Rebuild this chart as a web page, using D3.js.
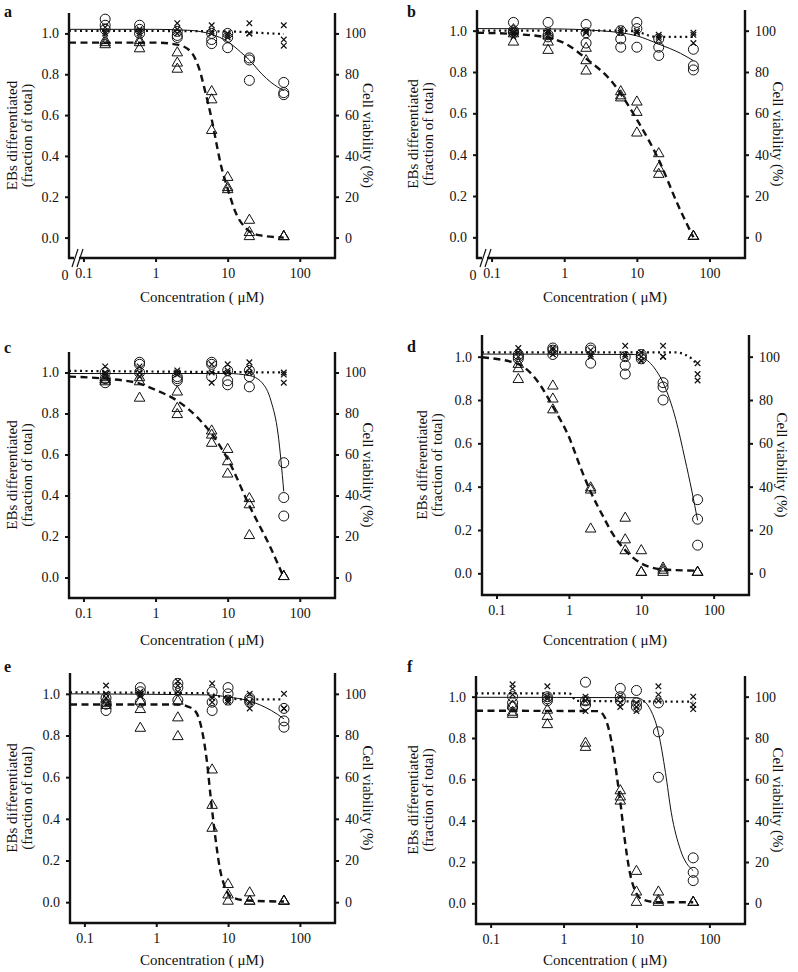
<!DOCTYPE html>
<html><head><meta charset="utf-8">
<script src="https://cdn.jsdelivr.net/npm/d3@7"></script>
<style>
body{margin:0;background:#fff;}
text{font-family:"Liberation Serif","Times New Roman",serif;fill:#111;}
</style></head>
<body><svg id="chart" width="798" height="972"></svg>
<script>
// ---------- data ----------
const conc = [0.2, 0.6, 2, 6, 10, 20, 60];
const xTicks = [0.1, 1, 10, 100];
const yTicks = [0, 0.2, 0.4, 0.6, 0.8, 1.0];
const yTicksRight = [0, 20, 40, 60, 80, 100];
const panelIds = ["a","b","c","d","e","f"];
const xTitle = "Concentration ( \u03bcM)";
const yTitle1 = "EBs differentiated";
const yTitle2 = "(fraction of total)";
const yTitleRight = "Cell viability (%)";

// triangles (EBs differentiated), circles, crosses — one array per concentration
const triA = [[0.94,0.95,0.96],[0.96,0.95,0.92],[0.90,0.85,0.82],[0.71,0.67,0.52],[0.29,0.24,0.23],[0.08,0.02,0.0],[0.0,0.0,0.0]];
const circA = [[1.07,1.04,1.02],[1.04,1.02,1.00],[1.01,0.99,0.98],[1.00,0.97,0.95],[1.00,0.98,0.93],[0.88,0.87,0.77],[0.76,0.71,0.70]];
const crossA = [[1.03,1.01,1.00],[1.02,1.01,1.00],[1.05,1.02,1.00],[1.04,1.01,1.00],[1.00,0.99,0.98],[1.05,1.00,1.00],[1.04,0.97,0.94]];
const solidA = [[0.063,1.02],[1,1.02],[3,1.015],[6,0.995],[10,0.96],[15,0.91],[20,0.87],[30,0.80],[40,0.76],[60,0.72]];
const dotA = [[0.063,1.013],[10,1.01],[20,1.005],[60,0.997]];
const dashA = [[0.063,0.955],[1,0.955],[2,0.945],[3,0.915],[4,0.83],[5,0.70],[6,0.58],[7,0.46],[8,0.36],[10,0.24],[13,0.12],[18,0.045],[27,0.012],[60,0.0]];

const triB = [[1.00,0.98,0.94],[0.97,0.94,0.90],[0.91,0.85,0.80],[0.70,0.68,0.67],[0.65,0.60,0.50],[0.40,0.33,0.30],[0.0,0.0,0.0]];
const circB = [[1.04,1.00,0.99],[1.04,0.98,0.97],[1.03,0.99,0.94],[1.00,0.96,0.92],[1.04,1.01,0.92],[0.96,0.92,0.88],[0.91,0.83,0.81]];
const crossB = [[1.00,0.99,0.97],[1.00,0.99,0.98],[1.00,0.99,0.99],[1.01,1.00,0.99],[1.00,0.99,0.99],[0.98,0.97,0.96],[0.99,0.98,0.94]];
const solidB = [[0.063,1.01],[1,1.008],[3,1.0],[6,0.99],[10,0.975],[20,0.935],[40,0.89],[60,0.855]];
const dotB = [[0.063,1.0],[6,1.0],[10,0.995],[15,0.975],[20,0.97],[60,0.97]];
const dashB = [[0.063,0.99],[0.2,0.984],[0.6,0.966],[1,0.94],[2,0.865],[4.6,0.75],[10,0.57],[20,0.375],[37.5,0.15],[60,0.0]];

const triC = [[0.97,0.96,0.95],[0.97,0.95,0.87],[0.90,0.82,0.79],[0.71,0.69,0.65],[0.62,0.56,0.50],[0.38,0.35,0.20],[0.0,0.0,0.0]];
const circC = [[1.00,0.97,0.95],[1.05,1.04,1.00],[0.98,0.97,0.96],[1.05,1.04,0.98],[1.01,0.96,0.94],[1.01,0.98,0.93],[0.56,0.39,0.30]];
const crossC = [[1.03,1.00,0.99],[1.03,1.00,0.98],[1.01,1.00,0.99],[1.04,1.00,0.95],[1.04,1.01,1.00],[1.05,1.02,1.00],[1.00,0.99,0.95]];
const solidC = [[0.063,0.995],[10,0.995],[20,0.985],[30,0.95],[40,0.86],[50,0.70],[60,0.42]];
const dotC = [[0.063,1.008],[60,1.0]];
const dashC = [[0.063,0.98],[0.2,0.97],[0.6,0.946],[1,0.915],[2,0.862],[4,0.773],[6,0.70],[10,0.578],[20,0.35],[40,0.14],[60,0.0]];

const triD = [[0.96,0.94,0.89],[0.86,0.80,0.75],[0.39,0.38,0.20],[0.25,0.15,0.10],[0.10,0.0,0.0],[0.02,0.01,0.0],[0.0,0.0,0.0]];
const circD = [[1.01,1.00,0.99],[1.04,1.03,1.01],[1.04,1.03,0.97],[1.00,0.96,0.92],[1.01,1.00,0.99],[0.88,0.86,0.80],[0.34,0.25,0.13]];
const crossD = [[1.04,1.02,1.00],[1.04,1.03,1.01],[1.03,1.01,1.00],[1.05,1.01,1.00],[1.02,1.00,0.98],[1.05,1.00,1.00],[0.97,0.92,0.89]];
const solidD = [[0.063,1.012],[8,1.01],[10,1.0],[15,0.95],[20,0.88],[30,0.71],[40,0.53],[50,0.38],[60,0.245]];
const dotD = [[0.063,1.02],[30,1.02],[40,1.01],[50,0.99],[60,0.96]];
const dashD = [[0.063,0.997],[0.2,0.966],[0.4,0.87],[0.6,0.77],[1,0.63],[1.5,0.475],[2,0.376],[3,0.26],[4,0.184],[6,0.107],[10,0.046],[20,0.018],[60,0.012]];

const triE = [[0.97,0.95,0.94],[0.96,0.92,0.83],[0.96,0.88,0.79],[0.63,0.46,0.35],[0.08,0.03,0.0],[0.04,0.0,0.0],[0.0,0.0,0.0]];
const circE = [[0.98,0.95,0.92],[1.03,1.01,0.96],[1.05,1.03,0.97],[1.01,0.96,0.92],[1.03,1.00,0.97],[0.98,0.97,0.96],[0.93,0.87,0.84]];
const crossE = [[1.04,1.00,0.98],[1.01,1.00,0.99],[1.06,1.04,1.01],[1.05,0.98,0.96],[0.98,0.97,0.96],[1.00,0.96,0.93],[1.00,0.93,0.93]];
const solidE = [[0.063,1.0],[5,0.995],[10,0.985],[20,0.965],[40,0.92],[60,0.88]];
const dotE = [[0.063,1.007],[5,1.003],[8,0.985],[10,0.978],[20,0.973],[60,0.973]];
const dashE = [[0.063,0.949],[2,0.949],[2.7,0.94],[3.5,0.917],[4.3,0.83],[5.1,0.67],[5.7,0.51],[6.6,0.32],[7.7,0.16],[9.1,0.07],[11.2,0.024],[18.3,0.008],[60,0.003]];

const triF = [[0.95,0.92,0.91],[0.93,0.90,0.86],[0.97,0.77,0.75],[0.54,0.51,0.49],[0.15,0.05,0.0],[0.05,0.01,0.0],[0.0,0.0,0.0]];
const circF = [[1.00,0.97,0.95],[1.00,0.99,0.98],[1.07,0.98,0.96],[1.04,1.00,0.98],[1.03,0.97,0.95],[0.97,0.83,0.61],[0.22,0.15,0.11]];
const crossF = [[1.06,1.04,1.01],[1.05,1.00,0.99],[1.00,0.98,0.93],[1.00,0.97,0.95],[0.97,0.95,0.93],[1.05,1.01,0.98],[1.00,0.96,0.94]];
const solidF = [[0.063,0.997],[10,0.995],[12,0.985],[15,0.947],[20,0.826],[25,0.633],[30,0.44],[40,0.26],[60,0.158]];
const dotF = [[0.063,1.016],[1.2,1.016],[1.5,0.98],[60,0.976]];
const dashF = [[0.063,0.932],[3,0.93],[3.7,0.898],[4.5,0.79],[5.3,0.633],[6.1,0.47],[6.9,0.31],[8.1,0.15],[9.6,0.06],[11.9,0.02],[20,0.005],[60,0.005]];

const panelData = {
  a:{tri:triA,circ:circA,cross:crossA,solid:solidA,dot:dotA,dash:dashA},
  b:{tri:triB,circ:circB,cross:crossB,solid:solidB,dot:dotB,dash:dashB},
  c:{tri:triC,circ:circC,cross:crossC,solid:solidC,dot:dotC,dash:dashC},
  d:{tri:triD,circ:circD,cross:crossD,solid:solidD,dot:dotD,dash:dashD},
  e:{tri:triE,circ:circE,cross:crossE,solid:solidE,dot:dotE,dash:dashE},
  f:{tri:triF,circ:circF,cross:crossF,solid:solidF,dot:dotF,dash:dashF}
};

// ---------- layout ----------
const layout = {
  a:{L:69,R:335,T:13,B:258,brk:true,lab:[4,17],yt:[12,27],rt:368,xt:[202,302]},
  b:{L:477,R:745,T:10,B:258,brk:true,lab:[407,17],yt:[413,428],rt:778,xt:[605,302]},
  c:{L:69,R:335,T:352,B:598,brk:false,lab:[4,353],yt:[12,27],rt:368,xt:[202,645]},
  d:{L:482,R:749,T:335,B:595,brk:false,lab:[407,352],yt:[422,437],rt:782,xt:[605,645]},
  e:{L:70,R:335,T:673,B:923,brk:false,lab:[4,672],yt:[12,27],rt:368,xt:[202,965]},
  f:{L:476,R:745,T:676,B:924,brk:false,lab:[407,672],yt:[413,428],rt:778,xt:[605,965]}
};
const xDomain = [0.063, 308];

const svg = d3.select("#chart");

panelIds.forEach(id => {
  const P = layout[id], D = panelData[id];
  const g = svg.append("g");
  const x = d3.scaleLog().domain(xDomain).range([P.L, P.R]);
  const y = d3.scaleLinear().domain([-0.1, 1.1]).range([P.B, P.T]);
  const yR = d3.scaleLinear().domain([-10, 110]).range([P.B, P.T]);

  // curves
  const line = d3.line().x(d => x(d[0])).y(d => y(d[1])).curve(d3.curveMonotoneX);
  g.append("path").attr("d", line(D.solid)).attr("fill","none").attr("stroke","#111").attr("stroke-width",1);
  g.append("path").attr("d", line(D.dot)).attr("fill","none").attr("stroke","#111").attr("stroke-width",2.2).attr("stroke-dasharray","2,3.5");
  g.append("path").attr("d", line(D.dash)).attr("fill","none").attr("stroke","#111").attr("stroke-width",2.4).attr("stroke-dasharray","7,4.5");

  // points
  const flat = arr => arr.flatMap((vals,i) => vals.map(v => [conc[i], v]));
  g.selectAll(null).data(flat(D.circ)).enter().append("circle")
    .attr("cx", d => x(d[0])).attr("cy", d => y(d[1])).attr("r", 5)
    .attr("fill","none").attr("stroke","#111").attr("stroke-width",1);
  const tri = d3.symbol().type(d3.symbolTriangle).size(48);
  g.selectAll(null).data(flat(D.tri)).enter().append("path")
    .attr("d", tri).attr("transform", d => `translate(${x(d[0])},${y(d[1])-1})`)
    .attr("fill","none").attr("stroke","#111").attr("stroke-width",1);
  const crs = d3.symbol().type(d3.symbolX).size(22);
  g.selectAll(null).data(flat(D.cross)).enter().append("path")
    .attr("d", crs).attr("transform", d => `translate(${x(d[0])},${y(d[1])})`)
    .attr("fill","none").attr("stroke","#111").attr("stroke-width",1.2);

  // axes
  const fmt = d3.format(".1f");
  const ax = g.append("g").attr("transform",`translate(${P.L},0)`)
    .call(d3.axisLeft(y).tickValues(yTicks).tickFormat(fmt).tickSize(4).tickPadding(6));
  const axR = g.append("g").attr("transform",`translate(${P.R},0)`)
    .call(d3.axisRight(yR).tickValues(yTicksRight).tickFormat(d3.format("d")).tickSize(4).tickPadding(6));
  const axB = g.append("g").attr("transform",`translate(0,${P.B})`)
    .call(d3.axisBottom(x).tickValues(xTicks).tickFormat(d => d === 0.1 ? "0.1" : d3.format("d")(d)).tickSize(4).tickPadding(6));
  [ax, axR, axB].forEach(a => {
    a.select(".domain").attr("stroke","#111").attr("stroke-width",2.4).attr("d", null);
    a.selectAll(".tick line").attr("stroke","#111").attr("stroke-width",2);
    a.selectAll("text").attr("font-size",14).attr("font-family","Liberation Serif").attr("fill","#111");
  });
  // redraw axis lines as plain segments
  ax.select(".domain").remove(); axR.select(".domain").remove(); axB.select(".domain").remove();
  g.append("line").attr("x1",P.L).attr("x2",P.L).attr("y1",P.T).attr("y2",P.B+1).attr("stroke","#111").attr("stroke-width",2.4);
  g.append("line").attr("x1",P.R).attr("x2",P.R).attr("y1",P.T).attr("y2",P.B+1).attr("stroke","#111").attr("stroke-width",2.4);
  g.append("line").attr("x1",P.L-1).attr("x2",P.R+1).attr("y1",P.B).attr("y2",P.B).attr("stroke","#111").attr("stroke-width",2.4);

  if (P.brk) {
    g.append("rect").attr("x",P.L+5).attr("y",P.B-3).attr("width",5).attr("height",6).attr("fill","#fff");
    [0,5].forEach(dx => g.append("line")
      .attr("x1",P.L+3+dx).attr("y1",P.B+9).attr("x2",P.L+9+dx).attr("y2",P.B-9)
      .attr("stroke","#111").attr("stroke-width",1.2));
    g.append("text").attr("x",P.L-4).attr("y",P.B+22).attr("text-anchor","middle")
      .attr("font-size",14).text("0");
  }

  // titles
  g.append("text").attr("x",P.xt[0]).attr("y",P.xt[1]).attr("text-anchor","middle")
    .attr("font-size",15).text(xTitle);
  const cy = (P.T + P.B) / 2;
  g.append("text").attr("transform",`translate(${P.yt[0]},${cy}) rotate(-90)`)
    .attr("text-anchor","middle").attr("dominant-baseline","central").attr("font-size",15).text(yTitle1);
  g.append("text").attr("transform",`translate(${P.yt[1]},${cy}) rotate(-90)`)
    .attr("text-anchor","middle").attr("dominant-baseline","central").attr("font-size",15).text(yTitle2);
  g.append("text").attr("transform",`translate(${P.rt},${cy}) rotate(90)`)
    .attr("text-anchor","middle").attr("dominant-baseline","central").attr("font-size",15).text(yTitleRight);
  g.append("text").attr("x",P.lab[0]).attr("y",P.lab[1]).attr("font-size",16)
    .attr("font-weight","bold").text(id);
});
</script></body></html>
